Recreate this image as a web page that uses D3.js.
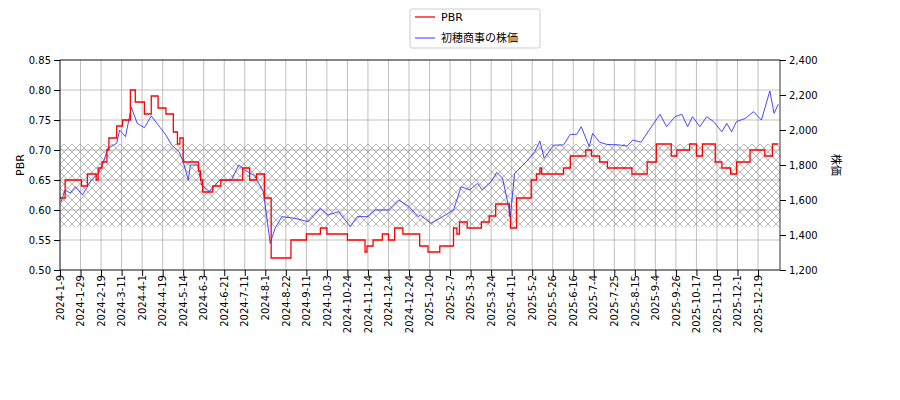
<!DOCTYPE html>
<html><head><meta charset="utf-8">
<script src="https://cdn.jsdelivr.net/npm/d3@7"></script>
<style>body{margin:0;background:#fff}text{font-family:"DejaVu Sans","Noto Sans CJK JP",sans-serif}</style>
</head><body><svg id="c" width="900" height="400"></svg>
<script>
const tickLabels=["2024-1-9","2024-1-29","2024-2-19","2024-3-11","2024-4-1","2024-4-19","2024-5-14","2024-6-3","2024-6-21","2024-7-11","2024-8-1","2024-8-22","2024-9-11","2024-10-3","2024-10-24","2024-11-14","2024-12-4","2024-12-24","2025-1-20","2025-2-7","2025-3-3","2025-3-24","2025-4-11","2025-5-2","2025-5-26","2025-6-16","2025-7-4","2025-7-25","2025-8-15","2025-9-4","2025-9-26","2025-10-17","2025-11-10","2025-12-1","2025-12-19"];
const endDate="2026-1-14";
const pbrDates=["2024-01-09","2024-01-14","2024-01-30","2024-02-05","2024-02-14","2024-02-16","2024-02-20","2024-02-25","2024-02-27","2024-03-06","2024-03-12","2024-03-20","2024-03-25","2024-04-03","2024-04-09","2024-04-15","2024-04-23","2024-05-02","2024-05-07","2024-05-10","2024-05-14","2024-05-29","2024-05-31","2024-06-02","2024-06-11","2024-06-18","2024-07-09","2024-07-16","2024-07-23","2024-07-31","2024-08-07","2024-08-27","2024-09-11","2024-09-26","2024-10-03","2024-10-24","2024-11-11","2024-11-13","2024-11-19","2024-11-28","2024-12-04","2024-12-10","2024-12-18","2025-01-07","2025-01-18","2025-01-29","2025-02-11","2025-02-15","2025-02-18","2025-02-27","2025-03-14","2025-03-22","2025-03-28","2025-04-09","2025-04-10","2025-04-16","2025-05-01","2025-05-07","2025-05-11","2025-05-13","2025-06-06","2025-06-13","2025-06-27","2025-07-02","2025-07-10","2025-07-18","2025-08-12","2025-08-27","2025-09-05","2025-09-21","2025-09-27","2025-10-10","2025-10-17","2025-10-24","2025-11-08","2025-11-15","2025-11-24","2025-11-30","2025-12-12","2025-12-27","2026-01-05","2026-01-12"];
const pbrValues=[0.62,0.65,0.64,0.66,0.65,0.67,0.68,0.70,0.72,0.74,0.75,0.80,0.78,0.76,0.79,0.77,0.76,0.73,0.71,0.72,0.68,0.665,0.65,0.63,0.64,0.65,0.67,0.65,0.66,0.62,0.52,0.55,0.56,0.57,0.56,0.55,0.53,0.54,0.55,0.56,0.55,0.57,0.56,0.54,0.53,0.54,0.57,0.56,0.58,0.57,0.58,0.59,0.61,0.59,0.57,0.62,0.65,0.66,0.67,0.66,0.67,0.69,0.70,0.69,0.68,0.67,0.66,0.68,0.71,0.69,0.70,0.71,0.69,0.71,0.68,0.67,0.66,0.68,0.70,0.69,0.71,0.71];
const priceDates=["2024-01-10","2024-01-14","2024-01-19","2024-01-24","2024-01-31","2024-02-09","2024-02-16","2024-02-21","2024-02-26","2024-03-06","2024-03-09","2024-03-15","2024-03-21","2024-03-27","2024-04-03","2024-04-09","2024-04-17","2024-04-23","2024-04-30","2024-05-09","2024-05-14","2024-05-19","2024-05-21","2024-05-28","2024-06-01","2024-06-08","2024-06-17","2024-06-28","2024-07-05","2024-07-11","2024-07-21","2024-07-30","2024-08-06","2024-08-11","2024-08-18","2024-08-31","2024-09-13","2024-09-26","2024-10-04","2024-10-15","2024-10-27","2024-11-03","2024-11-14","2024-11-21","2024-12-04","2024-12-14","2024-12-24","2025-01-05","2025-01-08","2025-01-21","2025-01-29","2025-02-11","2025-02-20","2025-03-02","2025-03-10","2025-03-15","2025-03-24","2025-03-29","2025-04-03","2025-04-08","2025-04-10","2025-04-14","2025-04-26","2025-05-05","2025-05-11","2025-05-16","2025-05-27","2025-06-06","2025-06-13","2025-06-19","2025-06-23","2025-06-30","2025-07-03","2025-07-10","2025-07-17","2025-07-31","2025-08-07","2025-08-13","2025-08-21","2025-08-29","2025-09-09","2025-09-16","2025-09-25","2025-10-02","2025-10-08","2025-10-13","2025-10-21","2025-10-29","2025-11-06","2025-11-15","2025-11-20","2025-11-25","2025-11-30","2025-12-08","2025-12-15","2025-12-23","2026-01-02","2026-01-07","2026-01-12"];
const priceValues=[1590,1657,1640,1676,1629,1714,1752,1810,1895,1924,2000,1962,2130,2038,2013,2080,2013,1971,1914,1876,1819,1714,1800,1800,1686,1648,1714,1714,1800,1771,1739,1648,1353,1438,1505,1495,1476,1552,1514,1533,1448,1505,1505,1543,1543,1600,1562,1505,1514,1467,1495,1543,1676,1657,1695,1657,1705,1758,1724,1571,1514,1752,1819,1876,1937,1838,1914,1914,1975,1975,2019,1905,1981,1930,1918,1914,1908,1943,1930,2000,2090,2019,2076,2090,2019,2076,2019,2076,2048,1990,2038,1990,2048,2067,2105,2057,2223,2095,2147];
const bandLow=0.572, bandHigh=0.71;
const pbrTicks=[0.50,0.55,0.60,0.65,0.70,0.75,0.80,0.85];
const priceTicks=[1200,1400,1600,1800,2000,2200,2400];

const L=60,R=780,T=60,B=270;
const svg=d3.select("#c");
const pd=d3.timeParse("%Y-%m-%d");
const tickDates=tickLabels.map(pd);
const step=20.53;
const x=d3.scaleTime().domain([...tickDates,pd(endDate)]).range([...tickDates.map((d,i)=>L+i*step),R]).clamp(true);
const y=d3.scaleLinear().domain([0.5,0.85]).range([B,T]);
const y2=d3.scaleLinear().domain([1200,2400]).range([B,T]);

const defs=svg.append("defs");
const pat=defs.append("pattern").attr("id","hx").attr("patternUnits","userSpaceOnUse").attr("width",8).attr("height",8);
pat.append("path").attr("d","M0,0L8,8M8,0L0,8").attr("stroke","#999").attr("stroke-width",0.7);

// grid
svg.append("g").selectAll("line").data(tickDates).join("line")
 .attr("x1",d=>x(d)).attr("x2",d=>x(d)).attr("y1",T).attr("y2",B).attr("stroke","#b0b0b0").attr("stroke-width",0.8);
svg.append("g").selectAll("line").data(pbrTicks).join("line")
 .attr("x1",L).attr("x2",R).attr("y1",d=>y(d)).attr("y2",d=>y(d)).attr("stroke","#b0b0b0").attr("stroke-width",0.8);

svg.append("rect").attr("x",L).attr("width",R-L).attr("y",y(bandHigh)).attr("height",y(bandLow)-y(bandHigh)).attr("fill","url(#hx)");

const pbr=pbrDates.map((d,i)=>({d:pd(d),v:pbrValues[i]}));
const pr=priceDates.map((d,i)=>({d:pd(d),v:priceValues[i]}));
svg.append("path").datum(pr).attr("fill","none").attr("stroke","#3333ff").attr("stroke-width",0.9)
 .attr("d",d3.line().x(d=>x(d.d)).y(d=>y2(d.v)));
svg.append("path").datum(pbr).attr("fill","none").attr("stroke","red").attr("stroke-width",1.3)
 .attr("d",d3.line().curve(d3.curveStepAfter).x(d=>x(d.d)).y(d=>y(d.v)));

const ax=svg.append("g").attr("transform",`translate(0,${B})`).call(d3.axisBottom(x).tickValues(tickDates).tickFormat((d,i)=>tickLabels[i]).tickSizeOuter(0));
ax.selectAll("text").attr("transform","rotate(-90)").attr("text-anchor","end").attr("x",-5).attr("y",0).attr("dy","0.32em").style("font-size","10px");
svg.append("g").attr("transform",`translate(${L},0)`).call(d3.axisLeft(y).tickValues(pbrTicks).tickFormat(d3.format(".2f")).tickSizeOuter(0)).selectAll("text").style("font-size","10px");
svg.append("g").attr("transform",`translate(${R},0)`).call(d3.axisRight(y2).tickValues(priceTicks).tickSizeOuter(0)).selectAll("text").style("font-size","10px");
svg.append("rect").attr("x",L).attr("y",T).attr("width",R-L).attr("height",B-T).attr("fill","none").attr("stroke","#000").attr("stroke-width",0.8);
svg.selectAll(".domain").remove();

svg.append("text").attr("transform","translate(24,165) rotate(-90)").attr("text-anchor","middle").style("font-size","11px").text("PBR");
svg.append("text").attr("transform","translate(832,165) rotate(90)").attr("text-anchor","middle").style("font-size","11px").text("株価");

const lg=svg.append("g");
lg.append("rect").attr("x",410).attr("y",9).attr("width",130).attr("height",39).attr("fill","#fff").attr("stroke","#ccc").attr("rx",2);
lg.append("line").attr("x1",415).attr("x2",435).attr("y1",17).attr("y2",17).attr("stroke","red").attr("stroke-width",1.3);
lg.append("line").attr("x1",415).attr("x2",435).attr("y1",38).attr("y2",38).attr("stroke","#3333ff").attr("stroke-width",1);
lg.append("text").attr("x",441).attr("y",21).style("font-size","11px").text("PBR");
lg.append("text").attr("x",441).attr("y",42).style("font-size","11px").text("初穂商事の株価");
</script></body></html>
